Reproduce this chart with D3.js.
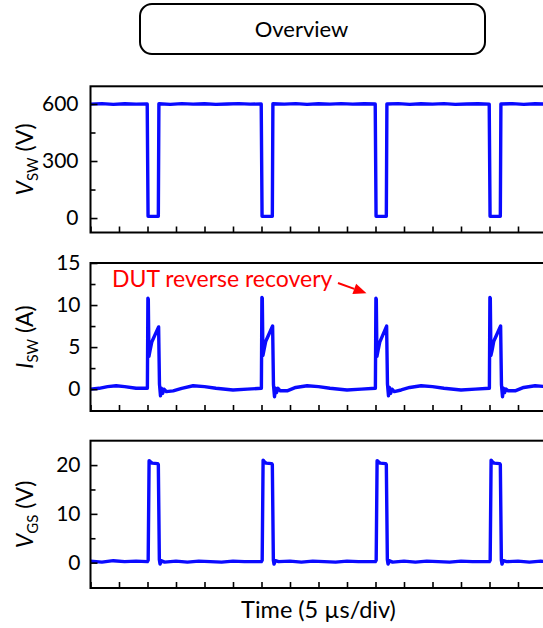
<!DOCTYPE html>
<html>
<head>
<meta charset="utf-8">
<script src="https://cdn.jsdelivr.net/npm/d3@7/dist/d3.min.js"></script>
<style>
  html, body { margin: 0; padding: 0; background: #fff; }
  svg { display: block; font-family: Lato, 'Noto Sans', sans-serif; }
</style>
</head>
<body>
<svg id="chart" width="543" height="628"></svg>
<script>
// Time axis in µs (5 µs/div), ticks only, no labels
const timeTicks = [0, 5, 10, 15, 20, 25, 30, 35, 40, 45, 50, 55, 60, 65, 70, 75, 80];

// Tick labels per panel
const vswTicks = [0, 300, 600];
const vswMinor = [150, 450];
const iswTicks = [0, 5, 10, 15];
const iswMinor = [2.5, 7.5, 12.5];
const vgsTicks = [0, 10, 20];
const vgsMinor = [5, 15];

// Waveforms: [time µs, value]
const vswData = [
  [0, 599], [2, 602], [4, 598], [6, 601], [8, 599], [9.95, 600], [10.1, 9], [11.9, 9], [12.0, 601],
  [14, 598], [16, 602], [18, 599], [20, 601], [22, 598], [24, 600], [26, 602], [28, 599], [29.95, 600],
  [30.1, 9], [31.9, 9], [32.0, 601], [34, 599], [36, 602], [38, 598], [40, 601], [42, 599], [44, 602],
  [46, 599], [48, 601], [49.95, 600], [50.1, 9], [51.9, 9], [52.0, 600], [54, 602], [56, 598], [58, 601],
  [60, 599], [62, 602], [64, 598], [66, 600], [68, 601], [69.95, 599], [70.1, 9], [71.9, 9], [72.0, 600],
  [74, 602], [76, 598], [78, 601], [80, 599]
];

const iswData = [
  [0, 0.0], [1.5, 0.1], [3, 0.3], [4.5, 0.4], [6, 0.3], [8, 0.1], [9.98, 0.1],
  [10.07, 10.8], [10.14, 10.7], [10.25, 3.9], [10.45, 4.6], [10.75, 5.6], [11.95, 7.4], [12.1, 0.6],
  [12.28, -0.8], [12.45, 0.1], [12.65, -0.5], [12.9, 0.0], [13.3, -0.3], [14.5, -0.2], [16, 0.1],
  [18, 0.4], [20, 0.3], [22, 0.1], [25, -0.1], [27.5, 0.0], [29.98, 0.1],
  [30.07, 10.9], [30.14, 10.8], [30.25, 4.0], [30.45, 4.7], [30.75, 5.7], [31.95, 7.5], [32.1, 0.5],
  [32.28, -0.9], [32.45, 0.1], [32.65, -0.4], [32.9, 0.1], [33.3, -0.2], [34.5, -0.2], [36, 0.2],
  [38, 0.4], [40, 0.3], [42, 0.1], [45, -0.1], [47.5, 0.0], [49.98, 0.1],
  [50.07, 10.8], [50.14, 10.7], [50.25, 3.9], [50.45, 4.6], [50.75, 5.6], [51.95, 7.5], [52.1, 0.6],
  [52.28, -0.8], [52.45, 0.2], [52.65, -0.5], [52.9, 0.0], [53.3, -0.3], [54.5, -0.1], [56, 0.2],
  [58, 0.4], [60, 0.3], [62, 0.1], [65, -0.1], [67.5, 0.0], [69.98, 0.1],
  [70.07, 10.9], [70.14, 10.8], [70.25, 4.0], [70.45, 4.6], [70.75, 5.7], [71.95, 7.5], [72.1, 0.5],
  [72.28, -0.9], [72.45, 0.1], [72.65, -0.4], [72.9, 0.0], [73.3, -0.2], [74.5, -0.2], [76, 0.2],
  [78, 0.4], [80, 0.3]
];

const vgsData = [
  [0, 0.3], [2, 0.1], [4, 0.4], [6, 0.2], [8, 0.3], [9.98, 0.2], [10.12, 0.5], [10.28, 20.9],
  [10.5, 20.7], [10.8, 20.4], [11.8, 20.3], [11.9, 20.1], [12.08, 0.6], [12.2, -0.3], [12.45, 0.4],
  [13, 0.1], [15, 0.3], [17, 0.1], [19, 0.3], [21, 0.2], [23, 0.1], [25, 0.3], [27, 0.2], [29.98, 0.2],
  [30.12, 0.5], [30.28, 21.0], [30.5, 20.7], [30.8, 20.4], [31.8, 20.3], [31.9, 20.1], [32.08, 0.5],
  [32.2, -0.3], [32.45, 0.4], [33, 0.2], [35, 0.3], [37, 0.1], [39, 0.3], [41, 0.2], [43, 0.1],
  [45, 0.3], [47, 0.2], [49.98, 0.2],
  [50.12, 0.5], [50.28, 20.9], [50.5, 20.7], [50.8, 20.4], [51.8, 20.3], [51.9, 20.1], [52.08, 0.6],
  [52.2, -0.3], [52.45, 0.4], [53, 0.1], [55, 0.3], [57, 0.1], [59, 0.3], [61, 0.2], [63, 0.1],
  [65, 0.3], [67, 0.2], [69.98, 0.2],
  [70.12, 0.5], [70.28, 21.0], [70.5, 20.7], [70.8, 20.4], [71.8, 20.3], [71.9, 20.1], [72.08, 0.5],
  [72.2, -0.3], [72.45, 0.4], [73, 0.2], [75, 0.3], [77, 0.1], [79, 0.3], [80, 0.2]
];

const svg = d3.select('#chart');
const traceColor = '#0a0aff';

const x = d3.scaleLinear()
  .domain([0, 80])
  .range([90.5, 546.5]);

const panels = [
  { data: vswData, domain: [-76, 693], top: 86.3, bottom: 232.5,
    ticks: vswTicks, minor: vswMinor, sym: 'V', sub: 'SW', unit: ' (V)', pad: 12 },
  { data: iswData, domain: [-2.6, 15], top: 263, bottom: 411,
    ticks: iswTicks, minor: iswMinor, sym: 'I', sub: 'SW', unit: ' (A)', pad: 10 },
  { data: vgsData, domain: [-5.2, 25], top: 440.7, bottom: 588,
    ticks: vgsTicks, minor: vgsMinor, sym: 'V', sub: 'GS', unit: ' (V)', pad: 10 }
];

panels.forEach(p => {
  p.y = d3.scaleLinear()
    .domain(p.domain)
    .range([p.bottom, p.top]);

  const g = svg.append('g');

  // Trace
  g.append('path')
    .datum(p.data)
    .attr('fill', 'none')
    .attr('stroke', traceColor)
    .attr('stroke-width', 3.4)
    .attr('stroke-linejoin', 'round')
    .attr('d', d3.line()
      .x(d => x(d[0]))
      .y(d => p.y(d[1])));

  // Frame
  g.append('rect')
    .attr('x', x.range()[0])
    .attr('y', p.top)
    .attr('width', x.range()[1] - x.range()[0])
    .attr('height', p.bottom - p.top)
    .attr('fill', 'none')
    .attr('stroke', '#000')
    .attr('stroke-width', 2);

  // Bottom axis: inward ticks, no labels
  g.append('g')
    .attr('transform', `translate(0,${p.bottom})`)
    .call(d3.axisBottom(x).tickValues(timeTicks).tickSize(-6).tickFormat(''))
    .call(a => a.select('.domain').remove())
    .call(a => a.selectAll('line').attr('stroke-width', 1.6));

  // Left axis: major ticks with labels
  g.append('g')
    .attr('transform', `translate(${x.range()[0]},0)`)
    .call(d3.axisLeft(p.y).tickValues(p.ticks).tickSize(-7).tickPadding(p.pad))
    .call(a => a.select('.domain').remove())
    .call(a => a.selectAll('line').attr('stroke-width', 1.6))
    .call(a => a.selectAll('text')
      .attr('font-family', 'Lato, sans-serif')
      .attr('font-size', 21)
      .attr('fill', '#000'));

  // Left axis: minor ticks
  g.append('g')
    .attr('transform', `translate(${x.range()[0]},0)`)
    .call(d3.axisLeft(p.y).tickValues(p.minor).tickSize(-5).tickFormat(''))
    .call(a => a.select('.domain').remove())
    .call(a => a.selectAll('line').attr('stroke-width', 1.6));

  // Y label, rotated, with subscript
  const label = svg.append('text')
    .attr('transform', `translate(33,${(p.top + p.bottom) / 2}) rotate(-90)`)
    .attr('text-anchor', 'middle')
    .attr('font-size', 23)
    .attr('fill', '#000');
  label.append('tspan')
    .attr('font-style', 'italic')
    .text(p.sym);
  label.append('tspan')
    .attr('font-size', 15)
    .attr('dy', 5)
    .text(p.sub);
  label.append('tspan')
    .attr('dy', -5)
    .text(p.unit);
});

// X axis title
svg.append('text')
  .attr('x', (x.range()[0] + x.range()[1]) / 2)
  .attr('y', 618)
  .attr('text-anchor', 'middle')
  .attr('font-size', 23.5)
  .text('Time (5 µs/div)');

// Title box
svg.append('rect')
  .attr('x', 140)
  .attr('y', 4)
  .attr('width', 345)
  .attr('height', 50)
  .attr('rx', 12)
  .attr('fill', '#fff')
  .attr('stroke', '#000')
  .attr('stroke-width', 2);
svg.append('text')
  .attr('x', 301.5)
  .attr('y', 37)
  .attr('text-anchor', 'middle')
  .attr('font-size', 22)
  .text('Overview');

// Annotation pointing at the third reverse-recovery spike
const yI = panels[1].y;
const tip = [x(50) - 9, yI(11.4)],
      tail = [338, 283],
      ang = Math.atan2(tip[1] - tail[1], tip[0] - tail[0]),
      headLen = 13, headW = 5.5,
      base = [tip[0] - headLen * Math.cos(ang), tip[1] - headLen * Math.sin(ang)];

svg.append('text')
  .attr('x', 112)
  .attr('y', 287)
  .attr('font-size', 23)
  .attr('fill', '#ff0000')
  .text('DUT reverse recovery');

svg.append('line')
  .attr('x1', tail[0])
  .attr('y1', tail[1])
  .attr('x2', base[0])
  .attr('y2', base[1])
  .attr('stroke', '#ff0000')
  .attr('stroke-width', 2);

svg.append('path')
  .attr('d', `M${tip[0]},${tip[1]}
    L${base[0] - headW * Math.sin(ang)},${base[1] + headW * Math.cos(ang)}
    L${base[0] + headW * Math.sin(ang)},${base[1] - headW * Math.cos(ang)}Z`)
  .attr('fill', '#ff0000');
</script>
</body>
</html>
